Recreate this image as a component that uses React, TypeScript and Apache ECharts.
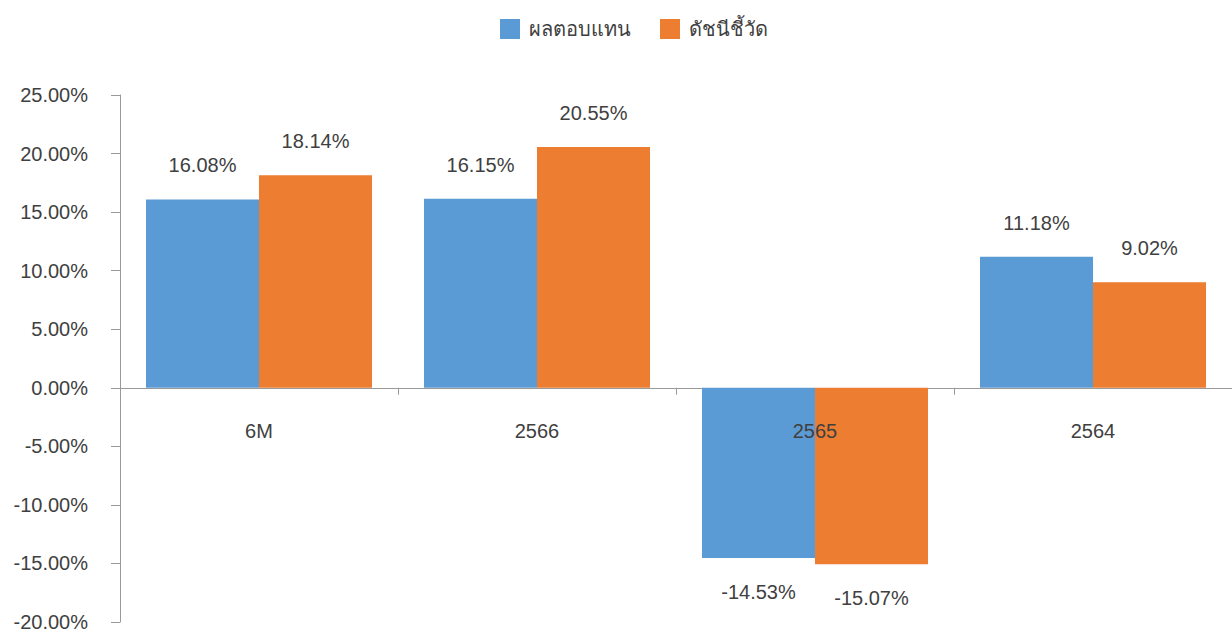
import React, { useEffect, useRef } from "react";
import * as echarts from "echarts";

const categories = ["6M", "2566", "2565", "2564"];
const fundReturn = [16.08, 16.15, -14.53, 11.18];
const benchmark = [18.14, 20.55, -15.07, 9.02];
const seriesNames = ["ผลตอบแทน", "ดัชนีชี้วัด"];

const FONT = "'Liberation Sans', Arial, sans-serif";
const TEXT = "#404040";

function toItems(vals: number[]) {
  return vals.map((v) => ({
    value: v,
    label: { position: v < 0 ? "bottom" : "top" },
  }));
}

export default function App() {
  const ref = useRef<HTMLDivElement>(null);
  useEffect(() => {
    if (!ref.current) return;
    const chart = echarts.init(ref.current, undefined, { renderer: "svg" });
    const labelCommon = {
      show: true,
      distance: 24,
      color: TEXT,
      fontSize: 20,
      fontFamily: FONT,
      formatter: (p: any) => Number(p.value).toFixed(2) + "%",
    };
    chart.setOption({
      animation: false,
      textStyle: { fontFamily: FONT },
      legend: {
        top: 19,
        left: 500,
        padding: 0,
        itemWidth: 20,
        itemHeight: 20,
        itemGap: 29,
        icon: "rect",
        textStyle: { fontSize: 20, color: TEXT, fontFamily: FONT, padding: [0, 0, 0, 4] },
        data: seriesNames,
      },
      grid: { left: 120, right: 0, top: 95, bottom: 8, containLabel: false, outerBoundsMode: "none" },
      xAxis: [
        {
          type: "category",
          data: categories,
          axisLine: { show: true, onZero: true, lineStyle: { color: "#999", width: 1 } },
          axisTick: { show: true, length: 7, lineStyle: { color: "#999" } },
          axisLabel: { show: false },
          splitLine: { show: false },
        },
        {
          type: "category",
          data: categories,
          position: "bottom",
          offset: -234,
          z: 10,
          axisLine: { show: false },
          axisTick: { show: false },
          axisLabel: { margin: 33, color: TEXT, fontSize: 20, fontFamily: FONT },
          splitLine: { show: false },
        },
      ],
      yAxis: {
        type: "value",
        min: -20,
        max: 25,
        interval: 5,
        axisLine: { show: true, lineStyle: { color: "#999", width: 1 } },
        axisTick: { show: true, length: 9, lineStyle: { color: "#999" } },
        axisLabel: {
          margin: 32,
          color: TEXT,
          fontSize: 20,
          fontFamily: FONT,
          padding: [0, 0, 5, 0],
          formatter: (v: number) => v.toFixed(2) + "%",
        },
        splitLine: { show: false },
      },
      series: [
        {
          name: seriesNames[0],
          type: "bar",
          xAxisIndex: 0,
          data: toItems(fundReturn),
          barWidth: 113,
          barGap: "0%",
          itemStyle: { color: "#5B9BD5" },
          label: labelCommon,
        },
        {
          name: seriesNames[1],
          type: "bar",
          xAxisIndex: 0,
          data: toItems(benchmark),
          barWidth: 113,
          barGap: "0%",
          itemStyle: { color: "#ED7D31" },
          label: labelCommon,
        },
      ],
    });
    return () => chart.dispose();
  }, []);
  return (
    <div
      ref={ref}
      style={{ position: "fixed", left: 0, top: 0, width: 1232, height: 630, background: "#fff" }}
    />
  );
}
